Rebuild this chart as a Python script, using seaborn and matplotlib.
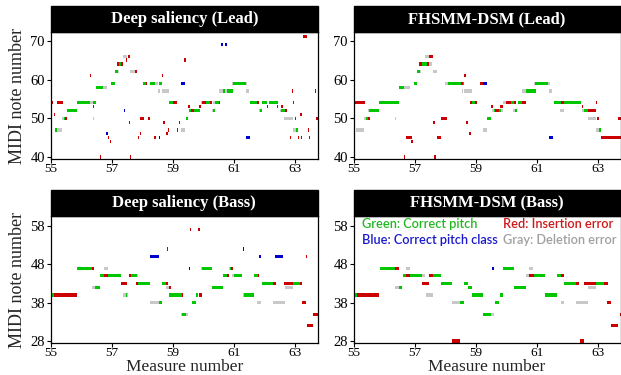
import pandas as pd
import matplotlib.pyplot as plt
import seaborn as sns
from matplotlib.patches import Rectangle


# (onset measure, offset measure, MIDI pitch, kind)
# kind: G = correct pitch, R = insertion, B = correct pitch class, D = deletion
ds_lead = [
    (55.00, 55.07, 54, 'R'), (55.20, 55.40, 54, 'R'), (55.08, 55.12, 51, 'R'),
    (55.35, 55.43, 50, 'D'), (55.43, 55.47, 50, 'G'), (55.47, 55.53, 50, 'R'),
    (55.12, 55.20, 47, 'G'), (55.20, 55.35, 47, 'D'), (55.53, 55.84, 52, 'G'),
    (55.84, 56.28, 54, 'G'), (56.28, 56.37, 54, 'D'), (56.37, 56.47, 54, 'G'),
    (56.38, 56.42, 53, 'R'), (56.37, 56.41, 50, 'D'), (56.27, 56.32, 61, 'R'),
    (56.47, 56.71, 58, 'G'), (56.71, 56.82, 58, 'D'), (56.97, 57.11, 59, 'G'),
    (57.11, 57.20, 62, 'G'), (57.20, 57.24, 62, 'D'), (57.15, 57.22, 64, 'R'),
    (57.22, 57.30, 64, 'G'), (57.30, 57.35, 64, 'R'), (57.45, 57.50, 65, 'R'),
    (57.37, 57.50, 66, 'D'), (57.53, 57.60, 66, 'R'), (57.60, 57.75, 62, 'D'),
    (57.75, 57.80, 62, 'R'), (57.38, 57.42, 52, 'B'), (56.80, 56.86, 46, 'B'),
    (56.86, 56.90, 45, 'R'), (56.92, 56.96, 44, 'R'), (56.60, 56.64, 40, 'R'),
    (57.58, 57.62, 40, 'R'), (57.54, 57.58, 49, 'R'), (57.92, 58.05, 50, 'R'),
    (58.19, 58.24, 50, 'R'), (57.84, 57.88, 45, 'R'), (57.90, 57.94, 46, 'R'),
    (58.00, 58.12, 59, 'G'), (58.12, 58.16, 59, 'R'), (58.25, 58.41, 59, 'G'),
    (58.41, 58.50, 59, 'D'), (58.55, 58.64, 59, 'G'), (58.49, 58.56, 57, 'D'),
    (58.63, 58.88, 57, 'D'), (58.62, 58.66, 61, 'R'), (59.25, 59.38, 59, 'B'),
    (59.37, 59.43, 65, 'R'), (58.68, 58.72, 49, 'R'), (58.83, 58.87, 47, 'R'),
    (58.78, 58.82, 46, 'R'), (58.38, 58.43, 45, 'R'), (58.53, 58.58, 45, 'B'),
    (58.87, 58.99, 54, 'G'), (58.99, 59.12, 54, 'R'), (59.18, 59.22, 49, 'R'),
    (59.13, 59.17, 47, 'R'), (59.25, 59.38, 47, 'D'), (59.43, 59.50, 50, 'G'),
    (59.50, 59.55, 53, 'R'), (59.53, 59.57, 52, 'G'), (59.57, 59.70, 52, 'R'),
    (59.70, 59.88, 52, 'G'), (59.86, 59.90, 53, 'R'), (59.90, 59.96, 54, 'D'),
    (59.96, 60.08, 54, 'R'), (60.08, 60.22, 54, 'G'), (60.22, 60.27, 54, 'R'),
    (60.30, 60.36, 54, 'D'), (60.36, 60.50, 54, 'G'), (60.50, 60.53, 54, 'R'),
    (60.57, 60.63, 69, 'B'), (60.70, 60.76, 69, 'B'), (60.27, 60.32, 52, 'D'),
    (60.32, 60.38, 52, 'G'), (60.52, 60.63, 57, 'D'), (60.63, 60.70, 57, 'G'),
    (60.70, 60.76, 57, 'D'), (60.76, 60.96, 57, 'G'), (60.93, 60.97, 59, 'D'),
    (60.97, 61.38, 59, 'G'), (61.38, 61.43, 59, 'D'), (61.40, 61.50, 57, 'D'),
    (61.39, 61.52, 45, 'B'), (61.52, 61.76, 54, 'G'), (61.76, 61.83, 54, 'R'),
    (61.90, 62.09, 54, 'G'), (62.15, 62.44, 54, 'G'), (62.92, 62.97, 54, 'R'),
    (61.80, 61.84, 52, 'D'), (61.84, 61.90, 52, 'G'), (62.08, 62.12, 53, 'R'),
    (62.40, 62.44, 53, 'R'), (62.55, 62.59, 53, 'R'), (62.50, 62.54, 52, 'D'),
    (62.54, 62.67, 52, 'G'), (62.67, 62.72, 52, 'R'), (62.65, 62.92, 50, 'D'),
    (62.98, 63.03, 50, 'R'), (63.68, 63.75, 50, 'R'), (63.17, 63.21, 51, 'R'),
    (62.92, 63.04, 47, 'D'), (63.04, 63.10, 47, 'G'), (63.41, 63.45, 47, 'R'),
    (62.84, 62.88, 45, 'R'), (63.08, 63.12, 45, 'R'), (63.18, 63.22, 45, 'R'),
    (63.44, 63.48, 45, 'R'), (62.90, 62.94, 57, 'R'), (63.64, 63.68, 57, 'R'),
    (63.27, 63.40, 71, 'R'),
]

fh_lead = [
    (55.00, 55.36, 54, 'R'), (55.82, 56.46, 54, 'G'), (58.80, 58.86, 54, 'R'),
    (58.86, 58.98, 54, 'G'), (58.98, 59.05, 54, 'R'), (55.46, 55.50, 52, 'D'),
    (55.50, 55.82, 52, 'G'), (55.33, 55.38, 50, 'D'), (55.38, 55.44, 50, 'G'),
    (55.44, 55.52, 50, 'R'), (56.35, 56.39, 50, 'D'), (55.05, 55.33, 47, 'D'),
    (59.25, 59.37, 47, 'D'), (56.46, 56.65, 58, 'G'), (56.65, 56.84, 58, 'D'),
    (56.97, 57.08, 59, 'G'), (57.99, 58.10, 59, 'D'), (58.10, 58.51, 59, 'G'),
    (58.51, 58.57, 59, 'R'), (58.57, 58.62, 59, 'G'), (59.13, 59.24, 59, 'R'),
    (59.24, 59.38, 59, 'B'), (57.08, 57.17, 62, 'G'), (57.17, 57.21, 62, 'D'),
    (57.60, 57.72, 62, 'D'), (57.14, 57.22, 64, 'R'), (57.22, 57.38, 64, 'G'),
    (57.38, 57.45, 64, 'R'), (57.45, 57.57, 64, 'D'), (57.34, 57.47, 66, 'D'),
    (57.47, 57.60, 66, 'R'), (58.62, 58.67, 61, 'R'), (58.53, 58.57, 57, 'D'),
    (58.62, 58.87, 57, 'D'), (57.60, 57.66, 49, 'R'), (58.68, 58.73, 49, 'R'),
    (57.85, 58.05, 50, 'R'), (56.70, 56.90, 45, 'R'), (57.72, 57.85, 45, 'R'),
    (56.88, 56.93, 44, 'R'), (58.78, 58.83, 46, 'R'), (56.63, 56.67, 40, 'R'),
    (57.64, 57.68, 40, 'R'), (59.38, 59.50, 50, 'G'), (60.90, 60.95, 59, 'D'),
    (60.95, 61.38, 59, 'G'), (61.38, 61.42, 59, 'D'), (60.52, 60.65, 57, 'D'),
    (60.65, 60.98, 57, 'G'), (61.41, 61.51, 57, 'D'), (59.90, 59.99, 54, 'D'),
    (59.99, 60.15, 54, 'R'), (60.15, 60.26, 54, 'G'), (60.26, 60.32, 54, 'R'),
    (60.39, 60.52, 54, 'G'), (60.52, 60.65, 54, 'R'), (61.55, 61.80, 54, 'G'),
    (61.80, 61.91, 54, 'R'), (61.91, 62.46, 54, 'G'), (62.93, 62.98, 54, 'R'),
    (59.50, 59.55, 53, 'R'), (59.80, 59.90, 53, 'R'), (62.48, 62.53, 53, 'R'),
    (59.53, 59.58, 52, 'D'), (59.58, 59.63, 52, 'G'), (59.63, 59.76, 52, 'R'),
    (59.76, 59.82, 52, 'G'), (59.82, 59.88, 52, 'D'), (60.22, 60.28, 52, 'D'),
    (60.28, 60.36, 52, 'G'), (61.77, 61.90, 52, 'D'), (62.49, 62.55, 52, 'D'),
    (62.55, 62.67, 52, 'G'), (62.67, 62.93, 52, 'R'), (62.67, 62.93, 50, 'D'),
    (62.98, 63.03, 50, 'R'), (63.68, 63.75, 50, 'R'), (62.95, 63.03, 47, 'D'),
    (63.03, 63.11, 47, 'G'), (61.41, 61.52, 45, 'B'), (63.12, 63.75, 45, 'R'),
]

ds_bass = [
    (59.56, 59.60, 57, 'R'), (59.83, 59.87, 57, 'R'), (58.79, 58.83, 52, 'R'),
    (58.25, 58.55, 50, 'B'), (55.86, 56.33, 47, 'G'), (56.33, 56.40, 47, 'R'),
    (56.74, 56.85, 47, 'D'), (59.51, 59.55, 47, 'B'), (59.90, 59.94, 47, 'D'),
    (59.94, 60.27, 47, 'G'), (60.83, 60.87, 47, 'D'), (60.87, 60.90, 47, 'G'),
    (60.90, 60.96, 47, 'R'), (56.60, 56.74, 45, 'G'), (56.74, 56.85, 45, 'R'),
    (56.85, 57.28, 45, 'G'), (57.55, 57.61, 45, 'R'), (57.61, 57.81, 45, 'G'),
    (57.81, 57.86, 45, 'D'), (60.65, 60.77, 45, 'G'), (60.77, 60.82, 45, 'R'),
    (60.93, 60.98, 45, 'D'), (60.98, 61.25, 45, 'G'), (61.66, 61.77, 45, 'G'),
    (61.77, 61.83, 45, 'R'), (57.30, 57.48, 43, 'R'), (57.79, 57.86, 43, 'R'),
    (57.86, 58.25, 43, 'G'), (58.63, 58.77, 43, 'G'), (58.77, 58.82, 43, 'R'),
    (61.90, 62.28, 43, 'G'), (62.28, 62.37, 43, 'R'), (62.62, 62.92, 43, 'R'),
    (62.92, 63.16, 43, 'G'), (63.16, 63.23, 43, 'R'), (56.35, 56.44, 42, 'D'),
    (56.44, 56.60, 42, 'G'), (58.77, 58.86, 42, 'D'), (58.86, 58.92, 42, 'R'),
    (60.27, 60.63, 42, 'G'), (62.67, 62.92, 42, 'D'), (55.00, 55.10, 40, 'G'),
    (55.10, 55.84, 40, 'R'), (57.37, 57.45, 40, 'D'), (57.45, 57.49, 40, 'G'),
    (57.49, 57.53, 40, 'D'), (58.88, 59.28, 40, 'G'), (59.28, 59.33, 40, 'R'),
    (59.75, 59.81, 40, 'G'), (59.86, 59.94, 40, 'R'), (61.29, 61.33, 40, 'D'),
    (61.33, 61.64, 40, 'G'), (58.25, 58.55, 38, 'D'), (58.55, 58.63, 38, 'G'),
    (59.63, 59.75, 38, 'G'), (61.76, 61.88, 38, 'D'), (62.29, 62.67, 38, 'D'),
    (63.22, 63.36, 38, 'R'), (59.25, 59.30, 35, 'D'), (59.30, 59.43, 35, 'G'),
    (59.43, 59.50, 35, 'D'), (63.60, 63.75, 35, 'R'), (63.40, 63.60, 32, 'R'),
    (61.28, 61.32, 52, 'B'), (61.83, 61.87, 50, 'B'), (62.34, 62.60, 50, 'B'),
    (63.36, 63.40, 50, 'R'),
]

fh_bass = [
    (55.85, 56.34, 47, 'G'), (56.34, 56.46, 47, 'R'), (56.72, 56.84, 47, 'D'),
    (59.53, 59.60, 47, 'B'), (59.88, 60.26, 47, 'G'), (60.76, 60.87, 47, 'D'),
    (56.59, 56.72, 45, 'G'), (56.72, 56.84, 45, 'R'), (56.84, 57.23, 45, 'G'),
    (57.23, 57.33, 45, 'D'), (57.47, 57.58, 45, 'R'), (57.58, 57.85, 45, 'G'),
    (60.65, 60.76, 45, 'D'), (60.76, 60.92, 45, 'R'), (60.92, 61.28, 45, 'G'),
    (61.66, 61.80, 45, 'G'), (61.80, 61.91, 45, 'R'), (57.23, 57.47, 43, 'R'),
    (57.85, 58.23, 43, 'G'), (58.62, 58.74, 43, 'G'), (61.91, 62.30, 43, 'G'),
    (62.30, 62.40, 43, 'R'), (62.54, 62.93, 43, 'R'), (62.93, 63.22, 43, 'G'),
    (63.22, 63.33, 43, 'R'), (56.34, 56.46, 42, 'D'), (56.46, 56.57, 42, 'G'),
    (58.74, 58.87, 42, 'G'), (60.26, 60.65, 42, 'G'), (62.67, 62.93, 42, 'D'),
    (55.00, 55.08, 40, 'G'), (55.08, 55.82, 40, 'R'), (57.36, 57.60, 40, 'D'),
    (58.87, 59.24, 40, 'G'), (59.79, 59.90, 40, 'G'), (61.28, 61.66, 40, 'G'),
    (58.23, 58.49, 38, 'D'), (58.49, 58.62, 38, 'G'), (59.64, 59.75, 38, 'G'),
    (61.80, 61.91, 38, 'D'), (62.30, 62.67, 38, 'D'), (63.31, 63.44, 38, 'R'),
    (59.24, 59.50, 35, 'G'), (59.50, 59.60, 35, 'D'), (63.72, 63.80, 35, 'R'),
    (63.44, 63.66, 32, 'R'), (58.23, 58.49, 28, 'R'), (62.43, 62.54, 28, 'R'),
]

titles = ['Deep saliency (Lead)', 'FHSMM-DSM (Lead)',
          'Deep saliency (Bass)', 'FHSMM-DSM (Bass)']
lead_ticks = [40, 50, 60, 70]
bass_ticks = [28, 38, 48, 58]
measure_ticks = [55, 57, 59, 61, 63]

legend_labels = ['Green: Correct pitch', 'Blue: Correct pitch class',
                 'Red: Insertion error', 'Gray: Deletion error']
legend_colors = ['#22b822', '#1a1acc', '#cc1a1a', '#a0a0a0']

colors = {'G': '#00c800', 'R': '#cc0000', 'B': '#0000cc', 'D': '#c8c8c8'}

sns.set_style('ticks')
plt.rcParams['font.family'] = ['Liberation Serif', 'DejaVu Serif']

W, H = 621, 375
fig = plt.figure(figsize=(W / 100, H / 100), dpi=100)


def add_px_axes(left, top, right, bottom):
    return fig.add_axes([left / W, 1 - bottom / H, (right - left) / W, (bottom - top) / H])


def draw_roll(ax, notes, title, ylim, yticks):
    df = pd.DataFrame(notes, columns=['start', 'end', 'pitch', 'kind'])
    ax.barh(df['pitch'], df['end'] - df['start'], left=df['start'], height=0.85,
            color=df['kind'].map(colors), linewidth=0)
    ax.set_xlim(54.98, 63.75)
    ax.set_ylim(*ylim)
    ax.set_xticks(measure_ticks)
    ax.set_yticks(yticks)
    ax.tick_params(length=3, width=0.8, pad=1, colors='black')
    ax.tick_params(axis='x', labelsize=9.5, pad=0)
    ax.tick_params(axis='y', labelsize=10.5)
    for s in ax.spines.values():
        s.set_linewidth(0.9)
        s.set_color('black')
    # black strip title on top of the panel
    strip_h = 26 / 127
    ax.add_patch(Rectangle((0, 1), 1, strip_h, transform=ax.transAxes,
                           facecolor='black', edgecolor='black', clip_on=False))
    ax.text(0.5, 1 + strip_h / 2, title, transform=ax.transAxes, ha='center',
            va='center', color='white', fontsize=12, fontweight='bold')


ax_tl = add_px_axes(50.5, 32, 318, 159)
ax_tr = add_px_axes(353.5, 32, 620.5, 159)
ax_bl = add_px_axes(50.5, 216, 318, 343)
ax_br = add_px_axes(353.5, 216, 620.5, 343)

draw_roll(ax_tl, ds_lead, titles[0], (39.5, 72.25), lead_ticks)
draw_roll(ax_tr, fh_lead, titles[1], (39.5, 72.25), lead_ticks)
draw_roll(ax_bl, ds_bass, titles[2], (27.5, 60.6), bass_ticks)
draw_roll(ax_br, fh_bass, titles[3], (27.5, 60.6), bass_ticks)

for ax in (ax_tl, ax_bl):
    ax.set_ylabel('MIDI note number', fontsize=13, labelpad=3)
for ax in (ax_bl, ax_br):
    ax.set_xlabel('Measure number', fontsize=12.5, labelpad=0)

legend_font = ['Lato', 'DejaVu Sans']
legend_pos = [(0.032, 0.937), (0.032, 0.811), (0.56, 0.937), (0.56, 0.811)]
for (lx, ly), label, col in zip(legend_pos, legend_labels, legend_colors):
    ax_br.text(lx, ly, label, transform=ax_br.transAxes, color=col, fontsize=9.2,
               family=legend_font, fontweight='semibold', va='center')

fig.savefig('out.png', dpi=100)
